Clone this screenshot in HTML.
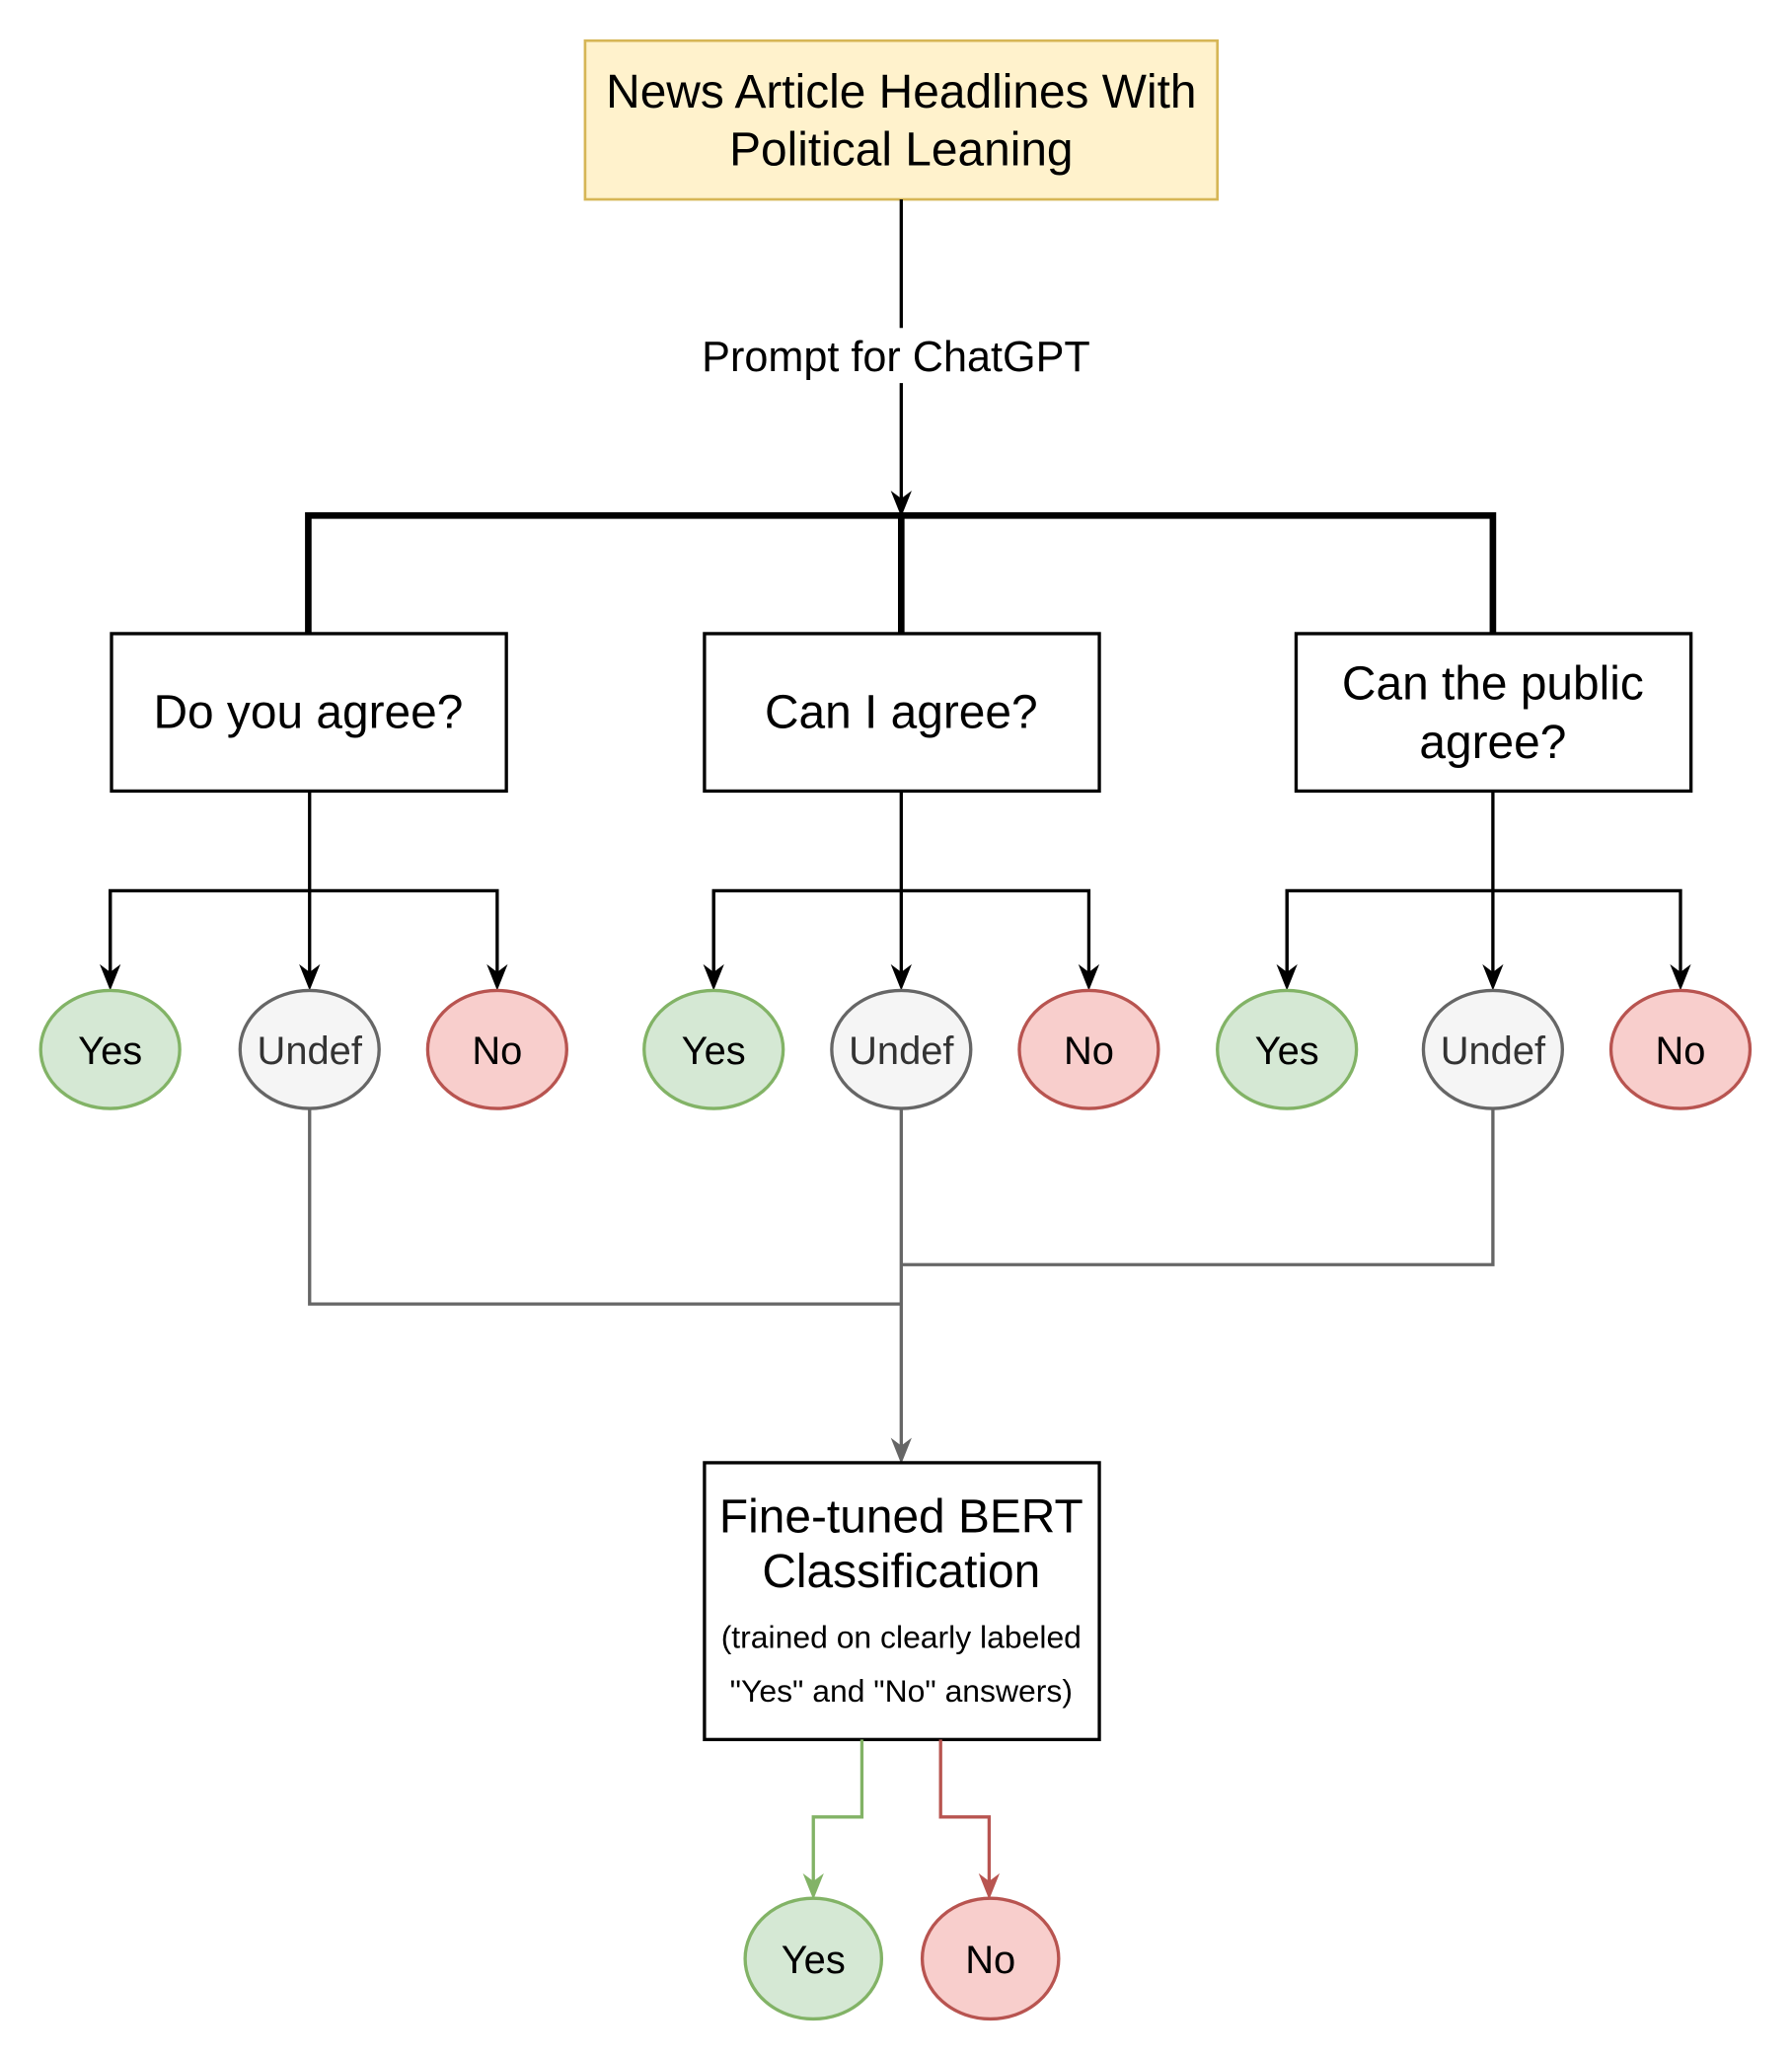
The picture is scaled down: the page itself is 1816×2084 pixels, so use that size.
<!DOCTYPE html>
<html><head><meta charset="utf-8"><style>
html,body{margin:0;padding:0;background:#fff;}
svg{display:block;}
text{font-family:"Liberation Sans",Helvetica,Arial,sans-serif;}
</style></head><body>
<svg width="1816" height="2084" viewBox="0 0 1366 1568" preserveAspectRatio="none" xmlns="http://www.w3.org/2000/svg">
<defs>
<marker id="ab2" viewBox="0 0 10 10" refX="8" refY="5" markerWidth="20" markerHeight="20" orient="auto" markerUnits="userSpaceOnUse"><path d="M0,1 L10,5 L0,9 L3,5 z" fill="#000"/></marker>
<marker id="ag" viewBox="0 0 10 10" refX="8" refY="5" markerWidth="20" markerHeight="20" orient="auto" markerUnits="userSpaceOnUse"><path d="M0,1 L10,5 L0,9 L3,5 z" fill="#666"/></marker>
<marker id="agr" viewBox="0 0 10 10" refX="8" refY="5" markerWidth="20" markerHeight="20" orient="auto" markerUnits="userSpaceOnUse"><path d="M0,1 L10,5 L0,9 L3,5 z" fill="#82b366"/></marker>
<marker id="ar" viewBox="0 0 10 10" refX="8" refY="5" markerWidth="20" markerHeight="20" orient="auto" markerUnits="userSpaceOnUse"><path d="M0,1 L10,5 L0,9 L3,5 z" fill="#b85450"/></marker>
</defs>
<rect x="446" y="31" width="482" height="121" fill="#fff2cc" stroke="#d6b656" stroke-width="2"/>
<text x="687" y="82" font-size="36" text-anchor="middle">News Article Headlines With</text>
<text x="687" y="126" font-size="36" text-anchor="middle">Political Leaning</text>
<line x1="687" y1="152" x2="687" y2="390" stroke="#000" stroke-width="2.5" marker-end="url(#ab2)"/>
<rect x="530" y="250" width="305" height="42" fill="#fff"/>
<text x="683" y="283" font-size="32.5" text-anchor="middle">Prompt for ChatGPT</text>
<path d="M235,483 V393 H1138 V483 M687,393 V483" fill="none" stroke="#000" stroke-width="5"/>
<g fill="#fff" stroke="#000" stroke-width="2.5">
<rect x="85" y="483" width="301" height="120"/>
<rect x="537" y="483" width="301" height="120"/>
<rect x="988" y="483" width="301" height="120"/>
</g>
<g font-size="36" text-anchor="middle">
<text x="235" y="555">Do you agree?</text>
<text x="687" y="555">Can I agree?</text>
<text x="1138" y="533">Can the public</text>
<text x="1138" y="578">agree?</text>
</g>
<g fill="none" stroke="#000" stroke-width="2.5">
<path d="M236,603 V751" marker-end="url(#ab2)"/>
<path d="M84,751 V679 H379 V751" marker-end="url(#ab2)"/>
<path d="M84,679 V751" marker-end="url(#ab2)"/>
<path d="M687,603 V751" marker-end="url(#ab2)"/>
<path d="M544,751 V679 H830 V751" marker-end="url(#ab2)"/>
<path d="M544,679 V751" marker-end="url(#ab2)"/>
<path d="M1138,603 V751" marker-end="url(#ab2)"/>
<path d="M981,751 V679 H1281 V751" marker-end="url(#ab2)"/>
<path d="M981,679 V751" marker-end="url(#ab2)"/>
</g>
<g stroke-width="2.5">
<ellipse cx="84" cy="800" rx="53" ry="45" fill="#d5e8d4" stroke="#82b366"/>
<ellipse cx="236" cy="800" rx="53" ry="45" fill="#f5f5f5" stroke="#666"/>
<ellipse cx="379" cy="800" rx="53" ry="45" fill="#f8cecc" stroke="#b85450"/>
<ellipse cx="544" cy="800" rx="53" ry="45" fill="#d5e8d4" stroke="#82b366"/>
<ellipse cx="687" cy="800" rx="53" ry="45" fill="#f5f5f5" stroke="#666"/>
<ellipse cx="830" cy="800" rx="53" ry="45" fill="#f8cecc" stroke="#b85450"/>
<ellipse cx="981" cy="800" rx="53" ry="45" fill="#d5e8d4" stroke="#82b366"/>
<ellipse cx="1138" cy="800" rx="53" ry="45" fill="#f5f5f5" stroke="#666"/>
<ellipse cx="1281" cy="800" rx="53" ry="45" fill="#f8cecc" stroke="#b85450"/>
</g>
<g font-size="30" text-anchor="middle">
<text x="84" y="811">Yes</text><text x="236" y="811" fill="#333">Undef</text><text x="379" y="811">No</text>
<text x="544" y="811">Yes</text><text x="687" y="811" fill="#333">Undef</text><text x="830" y="811">No</text>
<text x="981" y="811">Yes</text><text x="1138" y="811" fill="#333">Undef</text><text x="1281" y="811">No</text>
</g>
<g fill="none" stroke="#666" stroke-width="2.5">
<path d="M236,845 V994 H687"/>
<path d="M1138,845 V964 H687"/>
<path d="M687,845 V1112" marker-end="url(#ag)"/>
</g>
<rect x="537" y="1115" width="301" height="211" fill="#fff" stroke="#000" stroke-width="2.5"/>
<text x="687" y="1168" font-size="36" text-anchor="middle">Fine-tuned BERT</text>
<text x="687" y="1210" font-size="36" text-anchor="middle">Classification</text>
<text x="687" y="1256" font-size="24" text-anchor="middle">(trained on clearly labeled</text>
<text x="687" y="1297" font-size="24" text-anchor="middle">"Yes" and "No" answers)</text>
<path d="M657,1326 V1385 H620 V1444" fill="none" stroke="#82b366" stroke-width="2.5" marker-end="url(#agr)"/>
<path d="M717,1326 V1385 H754 V1444" fill="none" stroke="#b85450" stroke-width="2.5" marker-end="url(#ar)"/>
<ellipse cx="620" cy="1493" rx="52" ry="46" fill="#d5e8d4" stroke="#82b366" stroke-width="2.5"/>
<ellipse cx="755" cy="1493" rx="52" ry="46" fill="#f8cecc" stroke="#b85450" stroke-width="2.5"/>
<text x="620" y="1504" font-size="30" text-anchor="middle">Yes</text>
<text x="755" y="1504" font-size="30" text-anchor="middle">No</text>
</svg>
</body></html>
